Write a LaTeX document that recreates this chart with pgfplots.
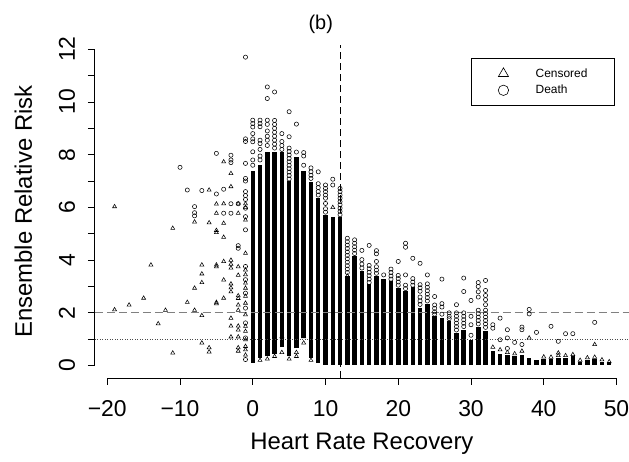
\documentclass[border=0pt]{standalone}
\usepackage{pgfplots}
\pgfplotsset{compat=1.18}
\usepackage{fontspec}
\setmainfont{Liberation Sans}
\definecolor{lgray}{gray}{0.5}
\begin{document}
\begin{tikzpicture}
\begin{axis}[
  name=ax,
  scale only axis,
  width=534.4bp, height=332.8bp,
  xmin=-21.72, xmax=51.72, ymin=-0.47, ymax=12.15,
  clip=false,
  axis x line*=bottom, axis y line*=left,
  axis line style={draw=none,-},
  xtick={-20,-10,0,10,20,30,40,50},
  xticklabels={−20,−10,0,10,20,30,40,50},
  ytick={0,1,2,3,4,5,6,7,8,9,10,11,12},
  yticklabels={0,,2,,4,,6,,8,,10,,12},
  tick align=outside,
  major tick length=7bp,
  minor tick num=0,
  tick style={black, line width=0.8bp},
  xticklabel style={font=\fontsize{23}{23}\selectfont, anchor=base, yshift=-31.9bp},
  yticklabel style={font=\fontsize{23}{23}\selectfont, xshift=-12.8bp, rotate=90, anchor=base},
  every axis x label/.style={at={(axis description cs:0.5,0)}, anchor=base, yshift=-71.9bp, font=\fontsize{24}{28}\selectfont},
  every axis y label/.style={at={(axis description cs:0,0.5)}, xshift=-62.8bp, rotate=90, anchor=base, font=\fontsize{24}{28}\selectfont},
  every axis title/.style={at={(axis description cs:0.423,1)}, anchor=base, yshift=15.8bp, font=\fontsize{20}{24}\selectfont},
  xlabel={Heart Rate Recovery},
  ylabel={Ensemble Relative Risk},
  title={(b)},
  legend style={at={(axis description cs:0.704,0.962)}, anchor=north west, draw=black, line width=0.8bp, fill=white,
    font=\fontsize{12}{14}\selectfont, inner xsep=27bp, inner ysep=9.5bp, row sep=6.4bp, column sep=27bp,
    nodes={inner sep=0pt}},
  legend cell align=left,
  legend image code/.code={\draw[#1] plot coordinates {(0bp,0bp)};},
]
\addlegendimage{only marks, mark=triangle, mark size=5.8bp, black, line width=0.6bp}
\addlegendentry{Censored}
\addlegendimage{only marks, mark=o, mark size=5.2bp, black, line width=0.6bp}
\addlegendentry{Death}

% dense columns (extent of overlapping markers)
\addplot[black, line width=4.5bp, no marks, unbounded coords=jump, forget plot] coordinates {
(0,0.10) (0,7.40) (0,nan)
(1,0.30) (1,7.60) (1,nan)
(2,0.35) (2,8.10) (2,nan)
(3,0.45) (3,8.10) (3,nan)
(4,0.70) (4,8.10) (4,nan)
(5,0.35) (5,7.00) (5,nan)
(6,0.65) (6,7.90) (6,nan)
(7,1.05) (7,7.40) (7,nan)
(8,0.30) (8,6.95) (8,nan)
(9,0.10) (9,6.35) (9,nan)
(10,0.04) (10,5.70) (10,nan)
(11,0.04) (11,5.65) (11,nan)
(12,0.04) (12,5.65) (12,nan)
(13,0.03) (13,3.40) (13,nan)
(14,0.03) (14,4.15) (14,nan)
(15,0.03) (15,3.57) (15,nan)
(16,0.03) (16,3.10) (16,nan)
(17,0.03) (17,3.40) (17,nan)
(18,0.03) (18,3.30) (18,nan)
(19,0.03) (19,3.20) (19,nan)
(20,0.03) (20,2.95) (20,nan)
(21,0.03) (21,2.82) (21,nan)
(22,0.03) (22,3.00) (22,nan)
(23,0.03) (23,2.20) (23,nan)
(24,0.03) (24,2.35) (24,nan)
(25,0.03) (25,1.87) (25,nan)
(26,0.03) (26,1.80) (26,nan)
(27,0.03) (27,1.70) (27,nan)
(28,0.03) (28,1.25) (28,nan)
(29,0.03) (29,1.36) (29,nan)
(30,0.03) (30,0.98) (30,nan)
(31,0.03) (31,1.45) (31,nan)
(32,0.03) (32,1.30) (32,nan)
(33,0.03) (33,0.54) (33,nan)
(34,0.03) (34,0.45) (34,nan)
(35,0.03) (35,0.42) (35,nan)
(36,0.03) (36,0.38) (36,nan)
(37,0.03) (37,0.42) (37,nan)
(38,0.03) (38,0.30) (38,nan)
(39,0.03) (39,0.23) (39,nan)
(40,0.03) (40,0.25) (40,nan)
(41,0.03) (41,0.25) (41,nan)
(42,0.03) (42,0.30) (42,nan)
(43,0.03) (43,0.30) (43,nan)
(44,0.03) (44,0.35) (44,nan)
(45,0.03) (45,0.15) (45,nan)
(46,0.03) (46,0.22) (46,nan)
(47,0.03) (47,0.25) (47,nan)
(48,0.03) (48,0.15) (48,nan)
(49,0.03) (49,0.12)
};

% Censored (triangles)
\addplot[only marks, mark=triangle, mark size=2.3bp, black, line width=0.55bp, forget plot] coordinates {
(-19,6.03) (-19,2.12) (-17,2.3) (-15,2.56) (-14,3.82) (-13,1.59) (-12,2.1) (-11,5.21) (-11,0.48)
(-9,2.4) (-8,5.45) (-8,2.94) (-8,2.1) (-7,3.82) (-7,3.48) (-7,3.15) (-7,1.9) (-7,0.86)
(-6,6.66) (-6,5.42) (-6,0.68) (-6,0.52) (-5,6.13) (-5,5.78) (-5,5.13) (-5,5.05) (-5,3.82) (-5,3.75)
(-5,2.4) (-5,2.35) (-4,7.73) (-4,6.14) (-4,5.4) (-4,4.87) (-4,3.95) (-4,3.25) (-4,2.56)
(-3,7.29) (-3,6.79) (-3,4.0) (-3,3.85) (-3,3.7) (-3,3.1) (-3,2.95) (-3,2.8) (-3,1.8) (-3,1.5) (-3,1.09)
(-2,6.14) (-2,5.78) (-2,3.75) (-2,3.43) (-2,2.65) (-2,2.55) (-2,2.3) (-2,2.1) (-2,1.5) (-2,1.35)
(-2,1.09) (-2,0.68) (-2,0.55)
(-1,6.14) (-1,6.0) (-1,5.52) (-1,4.26) (-1,3.63) (-1,3.45) (-1,3.13) (-1,2.94) (-1,2.63) (-1,2.37)
(-1,1.93) (-1,1.49) (-1,1.3) (-1,0.98) (-1,0.73) (-1,0.6) (-1,0.4)
(1,0.2) (2,0.25) (3,0.35) (4,0.5) (4,1.1) (5,0.25) (6,0.35) (6,0.5) (7,0.86) (7,1.1) (8,0.2) (11,6.0)
(13,3.4) (33,0.7)
(34,0.6) (35,0.5) (36,0.45) (37,0.55) (38,1.05) (40,0.33) (41,0.32) (42,0.48) (42,0.38) (43,0.38)
(44,0.42) (45,0.2) (46,0.3) (47,0.8) (47,0.32) (48,0.22) (49,0.15)
};

% Death (circles)
\addplot[only marks, mark=o, mark size=2.1bp, black, line width=0.55bp, forget plot] coordinates {
(-10,7.52) (-9,6.66) (-8,6.03) (-8,5.8) (-8,5.68) (-7,6.64) (-5,8.05) (-5,6.51) (-4,6.69) (-4,5.78)
(-3,7.98) (-3,7.8) (-3,7.7) (-3,6.14) (-3,5.78) (-2,6.14) (-2,4.45) (-2,4.55)
(-1,11.7) (-1,8.6) (-1,8.5) (-1,7.67) (-1,7.1) (-1,7.0) (-1,6.6) (-1,6.45) (-1,6.3) (-1,5.97)
(-1,5.65) (-1,5.15) (-1,3.76) (-1,3.26) (-1,2.75) (-1,2.18) (-1,1.62) (-1,1.05) (-1,0.23)
(0,9.31) (0,9.18) (0,9.05) (0,8.8) (0,8.6) (0,8.49) (0,8.11) (0,7.8) (0,7.6)
(1,9.31) (1,9.18) (1,9.06) (1,8.55) (1,8.42) (1,8.2) (1,7.95) (1,7.8)
(2,10.57) (2,10.13) (2,9.31) (2,9.15) (2,8.9) (2,8.7) (2,8.55) (2,8.35)
(3,10.38) (3,9.3) (3,9.15) (3,9.0) (3,8.85) (3,8.7) (3,8.55) (3,8.4) (3,8.25)
(4,8.8) (4,8.5) (4,8.35) (4,8.2)
(5,9.63) (5,8.68) (5,8.25) (5,8.12) (5,7.99) (5,7.86) (5,7.73) (5,7.6) (5,7.47) (5,7.34) (5,7.21) (5,7.08)
(6,9.16) (6,8.1)
(7,8.08) (7,7.95) (7,7.6)
(8,7.5) (8,7.35) (8,7.22) (8,7.1)
(9,7.35) (9,6.9) (9,6.75) (9,6.6) (9,6.47)
(10,6.85) (10,6.72) (10,6.6) (10,6.47) (10,6.35) (10,6.15) (10,5.95) (10,5.82)
(11,7.07) (11,6.85)
(12,6.72) (12,6.6) (12,6.47) (12,6.35) (12,6.22) (12,6.1) (12,5.97) (12,5.85) (12,5.72)
(13,4.83) (13,4.7) (13,4.57) (13,4.44) (13,4.31) (13,4.18) (13,4.05) (13,3.92) (13,3.79) (13,3.66) (13,3.53)
(14,4.77) (14,4.64) (14,4.51) (14,4.38) (14,4.25)
(15,4.37) (15,4.02) (15,3.85) (15,3.7)
(16,4.56) (16,3.8) (16,3.67) (16,3.54) (16,3.41) (16,3.28) (16,3.15)
(17,4.36) (17,4.24) (17,3.95) (17,3.75) (17,3.62) (17,3.5)
(18,3.44)
(19,3.66) (19,3.53) (19,3.4) (19,3.28)
(20,3.95) (20,3.42) (20,3.3) (20,3.17) (20,3.05)
(21,4.64) (21,4.49) (21,3.44) (21,3.05) (21,2.92)
(22,4.07) (22,3.3) (22,3.17) (22,3.05)
(23,3.88) (23,3.07) (23,2.95) (23,2.82) (23,2.6) (23,2.45) (23,2.32)
(24,3.44) (24,3.1) (24,2.97) (24,2.84) (24,2.71) (24,2.58) (24,2.45)
(25,2.62) (25,2.3) (25,2.17) (25,2.04) (25,1.95)
(26,3.28) (26,2.35) (26,2.22) (26,1.95)
(27,2.0) (27,1.87) (27,1.78)
(28,2.31) (28,2.0) (28,1.87) (28,1.74) (28,1.61) (28,1.48) (28,1.35)
(29,3.32) (29,2.81) (29,2.0) (29,1.87) (29,1.74) (29,1.61) (29,1.48)
(30,2.47) (30,1.87) (30,1.55) (30,1.15)
(31,3.15) (31,3.0) (31,2.8) (31,2.6) (31,2.1) (31,1.97) (31,1.84) (31,1.71) (31,1.58)
(32,3.23) (32,2.85) (32,2.66) (32,2.5) (32,2.31) (32,2.1) (32,1.97) (32,1.84) (32,1.71) (32,1.58) (32,1.45)
(33,1.55) (33,1.42)
(34,1.8) (34,0.98)
(35,1.36) (35,1.05) (35,0.65)
(36,0.88)
(37,1.46) (37,1.36) (37,0.8)
(38,2.13) (38,1.96)
(39,1.26) (41,1.49) (42,0.92) (43,1.21) (44,1.21) (47,1.64)
};

% reference lines
\addplot[lgray, line width=1.2bp, dash pattern=on 8bp off 4bp, forget plot] coordinates {(-21.72,2) (51.72,2)};
\addplot[black!70, line width=0.6bp, dash pattern=on 1bp off 1.5bp, forget plot] coordinates {(-21.72,1) (51.72,1)};
\addplot[black, line width=0.7bp, dash pattern=on 7bp off 4bp, forget plot] coordinates {(12,-0.47) (12,12.15)};

% R-style axis lines
\draw[line width=0.8bp] (axis cs:-20,-0.47) -- (axis cs:50,-0.47);
\draw[line width=0.8bp] (axis cs:-21.72,0) -- (axis cs:-21.72,12);
\end{axis}
\pgfresetboundingbox
\path ([xshift=-94.8bp,yshift=-83.9bp]ax.south west) rectangle ([yshift=45.3bp]ax.north east);
\end{tikzpicture}
\end{document}
